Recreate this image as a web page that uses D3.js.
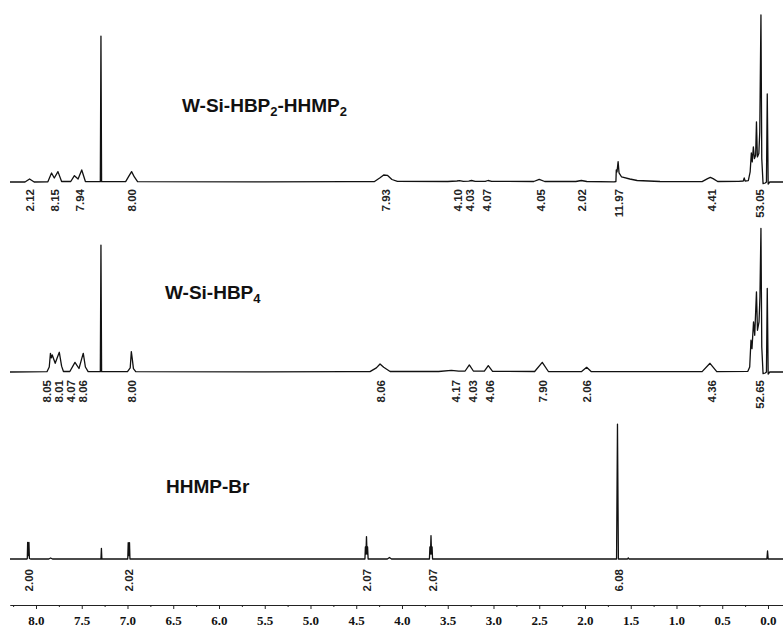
<!DOCTYPE html>
<html><head><meta charset="utf-8">
<script src="https://cdn.jsdelivr.net/npm/d3@7"></script>
<style>body{margin:0;background:#fff}svg{display:block}</style>
</head><body>
<svg id="c" width="783" height="628"></svg>
<script>
// ---------- data (ppm, relative intensity) ----------
const ppmTicks = [8.0,7.5,7.0,6.5,6.0,5.5,5.0,4.5,4.0,3.5,3.0,2.5,2.0,1.5,1.0,0.5,0.0];
const ppmMinorTicks = [8.25,7.75,7.25,6.75,6.25,5.75,5.25,4.75,4.25,3.75,3.25,2.75,2.25,1.75,1.25,0.75,0.25];

const specTop = [
  [8.284,0],[8.12,0],[8.07,1.8],[8.02,0],
  [7.87,0.1],[7.83,5.4],[7.80,2.4],[7.76,6.2],[7.72,0.3],
  [7.62,0.3],[7.58,3.8],[7.54,1.8],[7.50,7.2],[7.46,0.3],
  [7.30,0.2],[7.297,0.2],[7.29,87.4],[7.283,0.2],
  [7.02,0.2],[6.985,3.5],[6.955,6.2],[6.925,3.0],[6.89,0.2],
  [5.5,0.1],[4.6,0.2],[4.30,0.3],[4.24,2.5],[4.20,4.2],[4.16,4.0],[4.11,1.5],[4.05,0.4],
  [3.50,0.3],[3.40,0.6],[3.37,0.8],[3.33,0.4],[3.27,0.5],[3.24,0.9],[3.20,0.4],
  [3.09,0.4],[3.06,0.9],[3.02,0.4],
  [2.56,0.3],[2.50,1.6],[2.44,0.3],
  [2.10,0.3],[2.04,0.9],[1.98,0.3],
  [1.68,0.1],[1.662,0.3],[1.658,7.2],[1.650,6.0],[1.638,12.2],[1.628,5.5],[1.60,3.0],[1.51,1.8],[1.43,0.9],[1.18,0.3],
  [0.72,0.2],[0.66,2.0],[0.63,2.8],[0.60,2.0],[0.55,0.3],
  [0.32,0.4],[0.27,0.6],[0.26,2.4],[0.25,0.6],[0.215,0.8],
  [0.195,6],[0.182,17.4],[0.172,12],[0.160,21],[0.148,14],[0.135,16],[0.126,36],[0.116,15],[0.100,17],[0.090,30],
  [0.077,100],[0.068,14],[0.054,-1],[0.030,-0.6],[0.017,0],[0.008,52.7],[-0.002,-1.2],[-0.02,0],[-0.164,0]
];

const specMid = [
  [8.284,0],[7.88,0.2],[7.855,3],[7.842,11.2],[7.832,8.5],[7.822,10.2],[7.79,5.2],[7.765,9],[7.745,11.8],[7.72,3.5],[7.70,0.3],
  [7.63,0.3],[7.574,5.8],[7.53,2.1],[7.50,8],[7.483,11.2],[7.46,3],[7.43,0.2],
  [7.297,0.2],[7.29,76],[7.283,0.2],
  [7.00,0.2],[6.97,2.5],[6.958,12.2],[6.948,8],[6.935,2],[6.91,0.2],
  [5.5,0.1],[4.6,0.2],[4.35,0.2],[4.28,2.5],[4.24,4.8],[4.20,2.8],[4.13,0.3],
  [3.60,0.3],[3.46,1.0],[3.38,0.5],
  [3.31,0.6],[3.264,4.2],[3.22,0.6],
  [3.10,0.5],[3.057,3.8],[3.01,0.4],
  [2.55,0.3],[2.467,5.8],[2.40,0.3],
  [2.04,0.2],[1.982,2.8],[1.93,0.2],
  [0.72,0.2],[0.634,5.2],[0.56,0.2],
  [0.22,0.4],[0.20,3],[0.186,19],[0.175,14],[0.158,30],[0.145,22],[0.126,48],[0.115,25],[0.098,30],[0.088,45],
  [0.077,86],[0.068,15],[0.054,-1],[0.03,-0.6],[0.017,0],[0.008,50],[-0.002,-1.2],[-0.02,0],[-0.164,0]
];

const specBot = [
  [8.284,0],[8.10,0],[8.095,0.3],[8.091,10],[8.084,2],[8.077,10],[8.072,0.3],[8.06,0],
  [7.86,0],[7.84,0.6],[7.82,0],
  [7.29,0],[7.285,6.4],[7.28,0],
  [6.997,0],[6.992,9.8],[6.985,2],[6.978,9.8],[6.973,0],
  [4.405,0],[4.40,7.2],[4.394,3],[4.388,13.4],[4.382,3],[4.376,7.2],[4.37,0],
  [4.16,0],[4.137,0.9],[4.115,0],
  [3.70,0],[3.695,7.2],[3.689,3],[3.683,14],[3.677,3],[3.671,7.2],[3.666,0],
  [1.655,0],[1.645,80.8],[1.635,0],
  [1.535,0],[1.527,0.7],[1.519,0],
  [0.012,0],[0.005,4.8],[-0.002,0],[-0.164,0]
];

const intTop = [[8.066,"2.12"],[7.792,"8.15"],[7.519,"7.94"],[6.954,"8.00"],[4.180,"7.93"],
  [3.388,"4.10"],[3.257,"4.03"],[3.075,"4.07"],[2.484,"4.05"],[2.036,"2.02"],
  [1.625,"11.97"],[0.615,"4.41"],[0.087,"53.05"]];
const intMid = [[7.880,"8.05"],[7.754,"8.01"],[7.617,"4.07"],[7.486,"8.06"],[6.954,"8.00"],
  [4.233,"8.06"],[3.410,"4.17"],[3.221,"4.03"],[3.038,"4.06"],[2.456,"7.90"],
  [1.982,"2.06"],[0.615,"4.36"],[0.087,"52.65"]];
const intBot = [[8.082,"2.00"],[6.984,"2.02"],[4.388,"2.07"],[3.667,"2.07"],[1.634,"6.08"]];

const titleTop = [["W-Si-HBP",0],["2",1],["-HHMP",0],["2",1]];
const titleMid = [["W-Si-HBP",0],["4",1]];
const titleBot = [["HHMP-Br",0]];

// ---------- drawing ----------
const svg = d3.select("#c");
const W = 783, H = 628;
const x = d3.scaleLinear().domain([8.284, -0.164]).range([10, 783]);

const panels = [
  {spec: specTop, ints: intTop, title: titleTop, base: 182, labTop: 189, tx: 182, ty: 112},
  {spec: specMid, ints: intMid, title: titleMid, base: 372, labTop: 380, tx: 165, ty: 299},
  {spec: specBot, ints: intBot, title: titleBot, base: 559, labTop: 569, tx: 166, ty: 493}
];

panels.forEach(p => {
  const y = d3.scaleLinear().domain([0, 100]).range([p.base, p.base - 167]);
  const line = d3.line().x(d => x(d[0])).y(d => y(d[1]));
  svg.append("path").datum(p.spec)
    .attr("d", line).attr("fill", "none")
    .attr("stroke", "#111").attr("stroke-width", 1.3)
    .attr("stroke-linejoin", "round");

  svg.append("g").selectAll("text").data(p.ints).join("text")
    .attr("transform", d => `translate(${x(d[0])},${p.labTop}) rotate(-90)`)
    .attr("text-anchor", "end").attr("dy", "0.36em")
    .attr("font-family", "'Liberation Sans', Arial, sans-serif")
    .attr("font-weight", "bold").attr("font-size", "11.5px")
    .attr("fill", "#222")
    .text(d => d[1]);

  const t = svg.append("text").attr("x", p.tx).attr("y", p.ty)
    .attr("font-family", "'Liberation Sans', Arial, sans-serif")
    .attr("font-weight", "bold").attr("font-size", "19px").attr("fill", "#111");
  let prevSub = 0;
  p.title.forEach(part => {
    const ts = t.append("tspan").text(part[0]);
    if (part[1]) { ts.attr("font-size", "13px").attr("dy", 4); }
    else if (prevSub) { ts.attr("dy", -4); }
    prevSub = part[1];
  });
});

// axis
const axisY = 605;
const gMinor = svg.append("g").attr("transform", `translate(0,${axisY})`)
  .call(d3.axisBottom(x).tickValues(ppmMinorTicks).tickSize(2).tickSizeOuter(0).tickFormat(""));
const gMajor = svg.append("g").attr("transform", `translate(0,${axisY})`)
  .call(d3.axisBottom(x).tickValues(ppmTicks).tickSize(4).tickSizeOuter(0).tickPadding(7)
    .tickFormat(d3.format(".1f")));
[gMinor, gMajor].forEach(g => {
  g.selectAll("path,line").attr("stroke", "#222").attr("stroke-width", 1);
});
gMajor.selectAll("text")
  .attr("font-family", "'Liberation Serif', 'Times New Roman', serif")
  .attr("font-weight", "bold").attr("font-size", "13px").attr("fill", "#111");
</script>
</body></html>
